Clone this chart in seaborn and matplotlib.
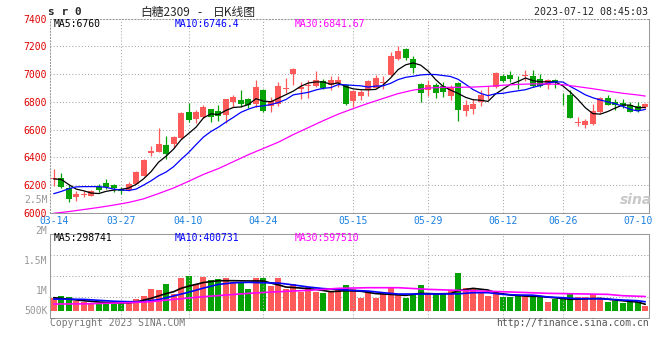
import numpy as np
import pandas as pd
import matplotlib
matplotlib.use("Agg")
import matplotlib.pyplot as plt
import seaborn as sns

# daily K line, trading days 2023-03-14 .. 2023-07-11 (index 0..79)
opens = [6242, 6250, 6178, 6112, 6130, 6124, 6188, 6216, 6204, 6175,
         6168, 6210, 6268, 6430, 6438, 6490, 6495, 6538, 6725, 6680,
         6690, 6747, 6732, 6704, 6800, 6812, 6818, 6787, 6883, 6770,
         6785, 6896, 7000, 6896, 6912, 6918, 6948, 6920, 6938, 6925,
         6806, 6842, 6883, 6902, 6936, 6991, 7106, 7178, 7110, 6926,
         6883, 6919, 6918, 6842, 6936, 6732, 6752, 6800, 6861, 6907,
         6984, 6991, 6952, 6987, 6988, 6967, 6919, 6960, 6851, 6847,
         6648, 6637, 6640, 6725, 6830, 6800, 6795, 6776, 6768, 6760]
closes = [6254, 6190, 6102, 6136, 6136, 6158, 6166, 6186, 6182, 6158,
          6208, 6296, 6385, 6445, 6495, 6425, 6548, 6720, 6672, 6727,
          6760, 6691, 6697, 6818, 6833, 6783, 6776, 6907, 6732, 6808,
          6912, 6900, 7040, 6905, 6922, 6955, 6900, 6955, 6955, 6783,
          6876, 6871, 6948, 6971, 6943, 7134, 7170, 7115, 7043, 6864,
          6919, 6864, 6872, 6907, 6745, 6775, 6783, 6852, 6866, 7007,
          6950, 6962, 6948, 6991, 6913, 6912, 6960, 6943, 6847, 6687,
          6652, 6661, 6732, 6830, 6780, 6776, 6771, 6728, 6736, 6787]
highs = [6315, 6290, 6200, 6156, 6156, 6165, 6208, 6246, 6212, 6190,
         6226, 6300, 6388, 6483, 6614, 6552, 6555, 6728, 6795, 6745,
         6775, 6750, 6776, 6822, 6848, 6885, 6828, 6955, 6895, 6838,
         6945, 6970, 7043, 6945, 6955, 7020, 6962, 6985, 6986, 6932,
         6883, 6883, 6955, 6991, 6986, 7158, 7206, 7188, 7134, 6936,
         6955, 6936, 6943, 6919, 6943, 6811, 6818, 6883, 6912, 7014,
         7003, 7022, 6984, 7027, 7027, 6998, 6965, 6967, 6866, 6888,
         6691, 6680, 6787, 6835, 6847, 6823, 6823, 6800, 6800, 6792]
lows = [6195, 6183, 6076, 6088, 6118, 6124, 6153, 6170, 6152, 6136,
        6155, 6208, 6265, 6408, 6436, 6388, 6470, 6532, 6655, 6650,
        6685, 6656, 6666, 6646, 6765, 6763, 6758, 6763, 6730, 6730,
        6772, 6866, 6920, 6823, 6830, 6910, 6890, 6883, 6907, 6780,
        6763, 6812, 6842, 6900, 6895, 6985, 7104, 7105, 7007, 6799,
        6842, 6828, 6835, 6811, 6661, 6696, 6711, 6770, 6823, 6900,
        6945, 6943, 6895, 6950, 6905, 6905, 6895, 6902, 6780, 6685,
        6627, 6613, 6632, 6720, 6776, 6740, 6759, 6725, 6728, 6752]

# moving averages
ma5 = [6245, 6242, 6205, 6172, 6160, 6144, 6140, 6156, 6165, 6170,
       6180, 6206, 6246, 6298, 6366, 6409, 6460, 6527, 6572, 6618,
       6685, 6714, 6709, 6739, 6760, 6764, 6781, 6823, 6806, 6801,
       6827, 6852, 6878, 6913, 6936, 6944, 6944, 6927, 6937, 6910,
       6894, 6888, 6887, 6890, 6922, 6973, 7033, 7067, 7081, 7065,
       7022, 6961, 6912, 6885, 6861, 6833, 6816, 6812, 6804, 6857,
       6892, 6927, 6947, 6972, 6953, 6945, 6945, 6944, 6915, 6870,
       6818, 6758, 6716, 6712, 6731, 6756, 6778, 6777, 6758, 6760]
ma10 = [6139, 6155, 6175, 6188, 6190, 6190, 6190, 6185, 6172, 6166,
        6162, 6172, 6201, 6232, 6268, 6295, 6333, 6386, 6435, 6492,
        6547, 6587, 6618, 6655, 6689, 6725, 6748, 6766, 6772, 6781,
        6796, 6817, 6851, 6860, 6869, 6886, 6898, 6903, 6925, 6923,
        6919, 6916, 6907, 6914, 6916, 6934, 6961, 6977, 6985, 6994,
        6998, 6997, 6990, 6983, 6963, 6927, 6889, 6862, 6845, 6859,
        6862, 6872, 6880, 6888, 6905, 6918, 6936, 6945, 6943, 6911,
        6882, 6851, 6830, 6814, 6800, 6787, 6768, 6746, 6735, 6746]
ma30_idx = [0, 2, 4, 6, 8, 10, 12, 14, 16, 18, 20, 22, 24, 26, 28, 30, 32, 34, 36, 38,
            40, 42, 44, 46, 48, 50, 52, 54, 56, 58, 60, 62, 64, 66, 68, 70, 72, 74, 76, 78, 79]
ma30 = [5998, 6010, 6025, 6040, 6057, 6076, 6102, 6140, 6180, 6228, 6278, 6320, 6370, 6420,
        6465, 6510, 6565, 6615, 6665, 6712, 6752, 6790, 6825, 6860, 6885, 6900, 6905, 6905,
        6907, 6912, 6920, 6926, 6930, 6930, 6924, 6910, 6895, 6878, 6862, 6850, 6842]

# volume (thousand lots) and its averages
volume = [494, 557, 519, 367, 342, 304, 266, 329, 266, 367,
          367, 456, 557, 836, 798, 1026, 646, 1254, 1330, 1001,
          1292, 1153, 1203, 1241, 1102, 1077, 836, 1254, 1254, 950,
          1254, 836, 1026, 722, 899, 722, 684, 747, 798, 988,
          836, 494, 760, 494, 646, 874, 621, 494, 621, 988,
          684, 621, 621, 773, 1444, 861, 811, 722, 570, 722,
          519, 519, 595, 570, 570, 519, 329, 456, 456, 646,
          519, 519, 621, 494, 329, 367, 279, 367, 329, 177]
vma5_idx = [0, 2, 4, 6, 8, 10, 11, 12, 13, 14, 15, 16, 17, 18, 19, 20, 22, 24, 26, 28, 29, 30,
            31, 33, 35, 37, 39, 41, 43, 45, 47, 49, 51, 53, 54, 56, 58, 59, 61, 63, 65, 67,
            69, 71, 73, 75, 77, 78, 79]
vma5 = [494, 440, 380, 330, 300, 300, 330, 400, 470, 560, 650, 720, 850, 930, 1000, 1070,
        1140, 1140, 1130, 1130, 1050, 980, 900, 860, 810, 722, 760, 740, 650, 620, 583, 659,
        640, 650, 760, 849, 785, 684, 595, 557, 540, 490, 431, 450, 469, 405, 350, 329, 245]
vma10_idx = [0, 4, 8, 10, 12, 14, 16, 18, 20, 22, 24, 26, 28, 30, 32, 34, 36, 38, 40, 42,
             44, 46, 50, 54, 56, 58, 60, 62, 64, 66, 68, 70, 72, 74, 76, 78, 79]
vma10 = [443, 430, 360, 342, 345, 420, 560, 700, 860, 1000, 1060, 1077, 1060, 1051, 980,
         900, 840, 811, 770, 747, 684, 633, 633, 640, 684, 684, 620, 595, 590, 520, 494,
         456, 456, 440, 405, 380, 340]
vma30_idx = [0, 4, 8, 10, 13, 16, 18, 20, 23, 26, 30, 34, 38, 42, 46, 50, 54, 58, 62, 66,
             70, 74, 76, 79]
vma30 = [253, 260, 290, 304, 342, 430, 480, 532, 595, 659, 722, 773, 849, 874, 874, 811,
         773, 740, 700, 660, 640, 620, 570, 540]

date_labels = ["03-14", "03-27", "04-10", "04-24", "05-15", "05-29", "06-12", "06-26", "07-10"]
date_pos = [0, 9, 18, 28, 40, 50, 60, 68, 78]
price_ticks = [6000, 6200, 6400, 6600, 6800, 7000, 7200, 7400]

RED = "#fe5a5a"
GREEN = "#04a204"
GRID = "#a8a8a8"
FRAME = "#999999"
DOT = (0, (1, 2))

sns.set_style("white")
plt.rcParams["font.family"] = ["DejaVu Sans Mono", "Noto Sans CJK SC"]

W, H = 660, 360
fig = plt.figure(figsize=(6.6, 3.6), dpi=100)
ax = fig.add_axes([50 / W, 147 / H, 599 / W, 194.4 / H])
axv = fig.add_axes([50 / W, 41.7 / H, 599 / W, 84 / H])

df = pd.DataFrame({"i": np.arange(len(closes)), "open": opens, "close": closes,
                   "high": highs, "low": lows, "vol": volume})
df["dir"] = np.where(df["close"] >= df["open"], "up", "down")
cols = df["dir"].map({"up": RED, "down": GREEN})

# candles
ax.vlines(df["i"], df["low"], df["high"], colors=cols, lw=0.9, zorder=2)
body = (df["close"] - df["open"]).abs().clip(lower=5)
ax.bar(df["i"], body, bottom=df[["open", "close"]].min(axis=1), width=0.8,
       color=cols, linewidth=0, zorder=3)

sns.lineplot(x=df["i"], y=ma5, ax=ax, color="black", lw=0.9, zorder=4)
sns.lineplot(x=df["i"], y=ma10, ax=ax, color="#0000ff", lw=0.9, zorder=4)
sns.lineplot(x=ma30_idx, y=ma30, ax=ax, color="#ff00ff", lw=0.9, zorder=4)

# volume bars: categorical x (0..79) so each bar sits on its day index
sns.barplot(data=df, x="i", y="vol", hue="dir", palette={"up": RED, "down": GREEN},
            width=0.8, dodge=False, legend=False, saturation=1,
            errorbar=None, linewidth=0, ax=axv)
sns.lineplot(x=vma5_idx, y=vma5, ax=axv, color="black", lw=1.2, zorder=4)
sns.lineplot(x=vma10_idx, y=vma10, ax=axv, color="#0000ff", lw=1.2, zorder=4)
sns.lineplot(x=vma30_idx, y=vma30, ax=axv, color="#ff00ff", lw=1.2, zorder=4)

for a in (ax, axv):
    a.set_xlim(-0.5, len(closes) - 0.5)
    a.set_xlabel("")
    a.set_ylabel("")
    for p in date_pos[1:-1]:
        a.axvline(p, color=GRID, lw=0.75, ls=DOT, zorder=1)
    for s in a.spines.values():
        s.set_color(FRAME)
        s.set_linewidth(0.75)
        s.set_visible(True)

ax.set_ylim(6000, 7400)
ax.set_yticks(price_ticks)
ax.yaxis.grid(True, color=GRID, lw=0.75, ls=DOT)
ax.tick_params(axis="y", length=0, pad=2.5, labelsize=7, labelcolor="#e00000")
ax.set_xticks(date_pos)
ax.set_xticklabels(date_labels)
ax.tick_params(axis="x", length=0, pad=2.5, labelsize=7, labelcolor="#1a80e0")
ax.spines["top"].set_linestyle(DOT)
ax.spines["left"].set_linestyle(DOT)

vlo, vhi = -289, 2903
axv.set_ylim(vlo, vhi)
axv.set_yticks([vlo + f * (vhi - vlo) for f in (0.25, 0.5, 0.75)])
axv.set_yticklabels([])
axv.yaxis.grid(True, color=GRID, lw=0.75, ls=DOT)
axv.set_xticks([])
axv.tick_params(length=0)

def put(x, y, s, **kw):
    fig.text(x / W, 1 - y / H, s, va="center", **kw)

put(48, 12, "s r 0", ha="left", fontsize=8, fontweight="bold")
put(140, 12.5, "白糖2309", ha="left", fontsize=8.5, family=["Noto Sans CJK SC", "DejaVu Sans"])
put(199.5, 12.5, "-", ha="center", fontsize=8.5, family=["Noto Sans CJK SC", "DejaVu Sans"])
put(213, 12.5, "日K线图", ha="left", fontsize=8.5, family=["Noto Sans CJK SC", "DejaVu Sans"])
put(648, 12, "2023-07-12 08:45:03", ha="right", fontsize=7.2)

put(54, 24, "MA5:6760", ha="left", fontsize=7, color="black")
put(175, 24, "MA10:6746.4", ha="left", fontsize=7, color="#0000ff")
put(295, 24, "MA30:6841.67", ha="left", fontsize=7, color="#ff00ff")
put(47.5, 200, "2.5M", ha="right", fontsize=7, color="#999999")

put(54, 238, "MA5:298741", ha="left", fontsize=7, color="black")
put(175, 238, "MA10:400731", ha="left", fontsize=7, color="#0000ff")
put(295, 238, "MA30:597510", ha="left", fontsize=7, color="#ff00ff")
for lab, y in zip(["2M", "1.5M", "1M", "500K"], [231, 260.5, 290.5, 310.5]):
    put(47.5, y, lab, ha="right", fontsize=7, color="#999999")

put(50, 323, "Copyright 2023 SINA.COM", ha="left", fontsize=7, color="#777777")
put(649, 323, "http://finance.sina.com.cn", ha="right", fontsize=7, color="#555555")
put(636, 200, "sina", ha="center", fontsize=10, color="#c8c8c8", style="italic",
    fontweight="bold", family=["DejaVu Sans"])

fig.savefig("out.png", dpi=100)
